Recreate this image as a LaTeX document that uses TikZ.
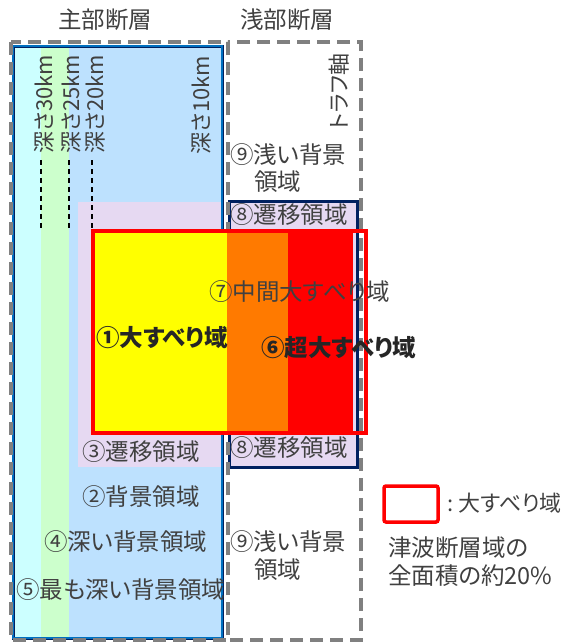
\documentclass[tikz,border=0pt]{standalone}
\usepackage{fontspec}
\setmainfont{Noto Sans CJK JP}[RawFeature=+palt]
\definecolor{txt}{HTML}{404040}
\definecolor{txtb}{HTML}{262626}
\definecolor{cyanS}{HTML}{CCFFFF}
\definecolor{greenS}{HTML}{CCFFCC}
\definecolor{blueF}{HTML}{BDE1FE}
\definecolor{lav}{HTML}{E6D9F2}
\definecolor{navyB}{HTML}{002060}
\definecolor{blueL}{HTML}{0070C0}
\definecolor{grayD}{HTML}{808080}
\definecolor{orangeF}{HTML}{FF7A00}
\definecolor{redF}{HTML}{FF0000}
\definecolor{yellowF}{HTML}{FFFF00}
\begin{document}
\begin{tikzpicture}[x=1pt,y=-1pt,
  lbl/.style={font=\fontsize{23.5}{26}\selectfont, text=txt, inner sep=0pt, anchor=west},
  lblb/.style={font=\fontsize{23.5}{26}\selectfont\bfseries, text=txtb, inner sep=0pt, anchor=west},
  vlbl/.style={font=\fontsize{22}{26}\selectfont, text=txt, inner sep=0pt, rotate=90, anchor=center},
  faultbox/.style={draw=grayD, line width=4pt, dash pattern=on 13pt off 7pt},
  depthline/.style={draw=black, line width=1.3pt, dash pattern=on 5pt off 4pt}]
\useasboundingbox (0,0) rectangle (565,643);
% main fault (blue) area
\fill[blueF] (13,46) rectangle (222,638);
\fill[cyanS] (14,47) rectangle (41,637);
\fill[greenS] (41,47) rectangle (69,637);
\fill[lav] (78,202) rectangle (222,467);
\draw[navyB, line width=3pt] (13,46) rectangle (222,638);
\draw[blueL, line width=1.2pt] (13,46) rectangle (222,638);
% transition box in shallow part
\fill[lav] (229,201) rectangle (357,467);
\draw[navyB, line width=3pt] (229,201) rectangle (357,467);
% gray dashed fault boxes
\draw[faultbox] (11,42) rectangle (228,640);
\draw[faultbox] (228,42) rectangle (361,640);
% depth lines
\draw[depthline] (41,160) -- (41,229);
\draw[depthline] (69,160) -- (69,229);
\draw[depthline] (92,160) -- (92,231);
% large slip areas
\fill[yellowF] (94,232) rectangle (227,432);
\fill[orangeF] (227,232) rectangle (288,432);
\fill[redF] (288,232) rectangle (353,432);
\draw[redF, line width=3.5pt] (93,231) rectangle (366,433);
% titles
\node[font=\fontsize{23.5}{26}\selectfont, text=txt, inner sep=0pt] (tmain) at (105,20) {主部断層};
\node[font=\fontsize{23.5}{26}\selectfont, text=txt, inner sep=0pt] (tshallow) at (287,20) {浅部断層};
% vertical labels
\node[vlbl] (d30) at (44,104) {深さ30km};
\node[vlbl] (d25) at (71,104) {深さ25km};
\node[vlbl] (d20) at (95,104) {深さ20km};
\node[vlbl] (d10) at (201,105) {深さ10km};
\node[vlbl] (trough) at (339,92) {トラフ軸};
% region labels
\node[lbl] (s9a) at (230,155) {⑨浅い背景};
\node[lbl] (s9b) at (254,182) {領域};
\node[lbl] (s8a) at (230,215) {⑧遷移領域};
\node[lbl] (s7) at (209,292) {⑦中間大すべり域};
\node[lblb] (s1) at (96,338) {①大すべり域};
\node[lblb] (s6) at (261,348) {⑥超大すべり域};
\node[lbl] (s3) at (82,452) {③遷移領域};
\node[lbl] (s8b) at (230,448) {⑧遷移領域};
\node[lbl] (s2) at (82,497) {②背景領域};
\node[lbl] (s4) at (44,542) {④深い背景領域};
\node[lbl] (s5) at (16,590) {⑤最も深い背景領域};
\node[lbl] (s9c) at (230,542) {⑨浅い背景};
\node[lbl] (s9d) at (254,570) {領域};
% legend
\draw[redF, line width=3.5pt, rounded corners=2pt] (384,486) rectangle (438,522);
\node[lbl, anchor=east, font=\fontsize{22}{26}\selectfont] (leg1) at (562,503) {:\hspace{5pt}大すべり域};
\node[lbl] (leg2) at (388,548) {津波断層域の};
\node[lbl] (leg3) at (388,576) {全面積の約20\%};
\end{tikzpicture}
\end{document}
